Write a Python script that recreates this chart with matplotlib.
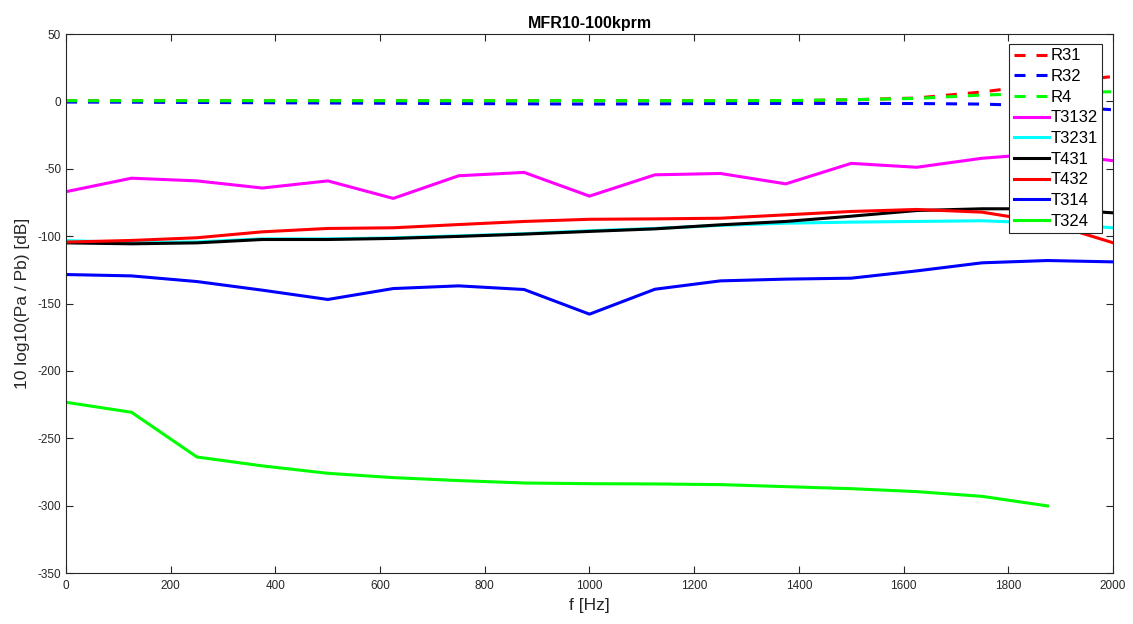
import numpy as np
import matplotlib
matplotlib.use("Agg")
import matplotlib.pyplot as plt

plt.rcParams['font.family'] = ['Liberation Sans', 'DejaVu Sans']
plt.rcParams['axes.unicode_minus'] = False

# frequency grid [Hz]
freq = [0, 125, 250, 375, 500, 625, 750, 875, 1000, 1125, 1250, 1375, 1500,
        1625, 1750, 1875, 2000]

# level ratios, 10 log10(Pa / Pb) [dB]
R31 = [0.5, 0.5, 0.5, 0.5, 0.5, 0.5, 0.5, 0.5, 0.5, 0.5, 0.5, 0.5, 1.2,
       2.5, 7.0, 13.0, 18.5]
R32 = [-0.5, -0.6, -0.8, -1.0, -1.2, -1.4, -1.6, -1.8, -2.0, -1.8, -1.6,
       -1.5, -1.5, -1.6, -2.0, -3.5, -6.2]
R4 = [0.5, 0.5, 0.5, 0.5, 0.5, 0.5, 0.5, 0.5, 0.5, 0.5, 0.5, 0.6, 1.2,
      2.2, 4.7, 6.0, 7.2]
T3132 = [-67.0, -57.0, -59.0, -64.3, -59.0, -72.0, -55.2, -52.7, -70.3,
         -54.5, -53.5, -61.2, -46.0, -48.9, -42.2, -38.5, -44.0]
T3231 = [-103.3, -104.8, -104.3, -102.0, -102.0, -101.3, -99.8, -98.2,
         -96.0, -94.3, -92.0, -90.4, -89.6, -89.1, -88.6, -90.4, -93.8]
T431 = [-105.0, -105.7, -105.0, -102.5, -102.5, -101.7, -100.2, -98.5,
        -96.5, -94.6, -91.6, -89.1, -85.2, -81.0, -79.7, -79.7, -82.7]
T432 = [-104.4, -103.2, -101.2, -96.8, -94.3, -93.8, -91.4, -89.1, -87.5,
        -87.2, -86.7, -84.2, -81.7, -80.2, -82.2, -90.0, -104.9]
T314 = [-128.5, -129.5, -133.7, -140.1, -147.0, -138.9, -136.9, -139.6,
        -157.9, -139.4, -133.2, -131.9, -131.2, -125.8, -119.8, -118.1,
        -119.1]
T324 = [-223.3, -230.7, -263.9, -270.5, -276.0, -279.2, -281.4, -283.2,
        -283.7, -283.9, -284.4, -285.9, -287.4, -289.6, -293.1, -300.2,
        np.nan]

series = [
    ("R31", R31, "#ff0000", "--"),
    ("R32", R32, "#0000ff", "--"),
    ("R4", R4, "#00ff00", "--"),
    ("T3132", T3132, "#ff00ff", "-"),
    ("T3231", T3231, "#00ffff", "-"),
    ("T431", T431, "#000000", "-"),
    ("T432", T432, "#ff0000", "-"),
    ("T314", T314, "#0000ff", "-"),
    ("T324", T324, "#00ff00", "-"),
]

fig = plt.figure(figsize=(11.33, 6.24), dpi=100)
ax = fig.add_axes([0.0583, 0.0817, 0.9240, 0.8638])

for name, vals, color, ls in series:
    line, = ax.plot(freq, vals, color=color, linewidth=2.2, label=name)
    if ls == "--":
        line.set_dashes((3.6, 3.6))

ax.set_xlim(0, 2000)
ax.set_ylim(-350, 50)
ax.set_xticks(np.arange(0, 2001, 200))
ax.set_yticks(np.arange(-350, 51, 50))

edge = "#262626"
for sp in ax.spines.values():
    sp.set_color(edge)
    sp.set_linewidth(0.8)
ax.tick_params(direction="in", top=True, right=True, length=5, width=0.8,
               colors=edge, labelsize=8.5, labelcolor=edge)
ax.tick_params(axis="x", pad=5)

ax.set_xlabel("f [Hz]", fontsize=12.5, color=edge, labelpad=4)
ax.set_ylabel("10 log10(Pa / Pb) [dB]", fontsize=12.5, color=edge,
              labelpad=5)
ax.set_title("MFR10-100kprm", fontsize=11.5, fontweight="bold",
             color="black", pad=4)

leg = ax.legend(loc="upper right", bbox_to_anchor=(0.990, 0.981),
                fontsize=12, frameon=True, fancybox=False,
                edgecolor=edge, framealpha=1.0, handlelength=2.1,
                handletextpad=0.15, labelspacing=0.34, borderpad=0.25,
                borderaxespad=0.0)
leg.get_frame().set_linewidth(0.8)

fig.savefig("out.png", dpi=100)
